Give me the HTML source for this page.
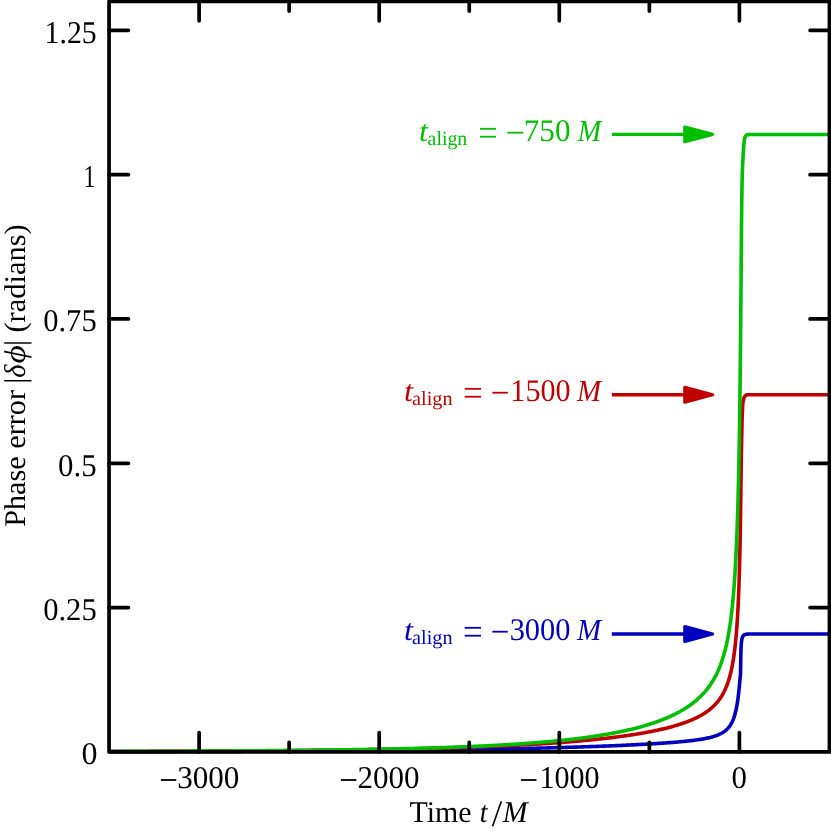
<!DOCTYPE html><html><head><meta charset="utf-8"><title>Phase error</title>
<style>html,body{margin:0;padding:0;background:#fff;}body{width:831px;height:831px;overflow:hidden;}svg{display:block;}text{font-family:"Liberation Serif",serif;font-size:30px;fill:#000;text-rendering:geometricPrecision;}</style></head><body>
<svg width="831" height="831" viewBox="0 0 831 831" style="will-change:transform">
<rect width="831" height="831" fill="#fff"/>
<path d="M109.20,751.66 L110.20,751.66 L111.21,751.66 L112.21,751.65 L113.21,751.65 L114.21,751.65 L115.22,751.65 L116.22,751.65 L117.22,751.65 L118.22,751.64 L119.23,751.64 L120.23,751.64 L121.23,751.64 L122.23,751.64 L123.24,751.64 L124.24,751.63 L125.24,751.63 L126.24,751.63 L127.25,751.63 L128.25,751.63 L129.25,751.63 L130.25,751.62 L131.26,751.62 L132.26,751.62 L133.26,751.62 L134.27,751.62 L135.27,751.61 L136.27,751.61 L137.27,751.61 L138.28,751.61 L139.28,751.61 L140.28,751.60 L141.28,751.60 L142.29,751.60 L143.29,751.60 L144.29,751.60 L145.29,751.59 L146.30,751.59 L147.30,751.59 L148.30,751.59 L149.30,751.59 L150.31,751.58 L151.31,751.58 L152.31,751.58 L153.32,751.58 L154.32,751.58 L155.32,751.57 L156.32,751.57 L157.33,751.57 L158.33,751.57 L159.33,751.56 L160.33,751.56 L161.34,751.56 L162.34,751.56 L163.34,751.56 L164.34,751.55 L165.35,751.55 L166.35,751.55 L167.35,751.55 L168.35,751.54 L169.36,751.54 L170.36,751.54 L171.36,751.54 L172.36,751.53 L173.37,751.53 L174.37,751.53 L175.37,751.53 L176.38,751.52 L177.38,751.52 L178.38,751.52 L179.38,751.52 L180.39,751.51 L181.39,751.51 L182.39,751.51 L183.39,751.51 L184.40,751.50 L185.40,751.50 L186.40,751.50 L187.40,751.50 L188.41,751.49 L189.41,751.49 L190.41,751.49 L191.41,751.49 L192.42,751.48 L193.42,751.48 L194.42,751.48 L195.42,751.48 L196.43,751.47 L197.43,751.47 L198.43,751.47 L199.44,751.46 L200.44,751.46 L201.44,751.46 L202.44,751.46 L203.45,751.45 L204.45,751.45 L205.45,751.45 L206.45,751.44 L207.46,751.44 L208.46,751.44 L209.46,751.44 L210.46,751.43 L211.47,751.43 L212.47,751.43 L213.47,751.42 L214.47,751.42 L215.48,751.42 L216.48,751.41 L217.48,751.41 L218.48,751.41 L219.49,751.40 L220.49,751.40 L221.49,751.40 L222.50,751.39 L223.50,751.39 L224.50,751.39 L225.50,751.38 L226.51,751.38 L227.51,751.38 L228.51,751.37 L229.51,751.37 L230.52,751.37 L231.52,751.36 L232.52,751.36 L233.52,751.36 L234.53,751.35 L235.53,751.35 L236.53,751.35 L237.53,751.34 L238.54,751.34 L239.54,751.34 L240.54,751.33 L241.54,751.33 L242.55,751.33 L243.55,751.32 L244.55,751.32 L245.56,751.31 L246.56,751.31 L247.56,751.31 L248.56,751.30 L249.57,751.30 L250.57,751.30 L251.57,751.29 L252.57,751.29 L253.58,751.28 L254.58,751.28 L255.58,751.28 L256.58,751.27 L257.59,751.27 L258.59,751.26 L259.59,751.26 L260.59,751.26 L261.60,751.25 L262.60,751.25 L263.60,751.24 L264.60,751.24 L265.61,751.23 L266.61,751.23 L267.61,751.23 L268.62,751.22 L269.62,751.22 L270.62,751.21 L271.62,751.21 L272.63,751.20 L273.63,751.20 L274.63,751.20 L275.63,751.19 L276.64,751.19 L277.64,751.18 L278.64,751.18 L279.64,751.17 L280.65,751.17 L281.65,751.16 L282.65,751.16 L283.65,751.15 L284.66,751.15 L285.66,751.14 L286.66,751.14 L287.66,751.14 L288.67,751.13 L289.67,751.13 L290.67,751.12 L291.68,751.12 L292.68,751.11 L293.68,751.11 L294.68,751.10 L295.69,751.10 L296.69,751.09 L297.69,751.09 L298.69,751.08 L299.70,751.07 L300.70,751.07 L301.70,751.06 L302.70,751.06 L303.71,751.05 L304.71,751.05 L305.71,751.04 L306.71,751.04 L307.72,751.03 L308.72,751.03 L309.72,751.02 L310.72,751.02 L311.73,751.01 L312.73,751.00 L313.73,751.00 L314.73,750.99 L315.74,750.99 L316.74,750.98 L317.74,750.97 L318.75,750.97 L319.75,750.96 L320.75,750.96 L321.75,750.95 L322.76,750.95 L323.76,750.94 L324.76,750.93 L325.76,750.93 L326.77,750.92 L327.77,750.91 L328.77,750.91 L329.77,750.90 L330.78,750.90 L331.78,750.89 L332.78,750.88 L333.78,750.88 L334.79,750.87 L335.79,750.86 L336.79,750.86 L337.79,750.85 L338.80,750.84 L339.80,750.84 L340.80,750.83 L341.81,750.82 L342.81,750.82 L343.81,750.81 L344.81,750.80 L345.82,750.80 L346.82,750.79 L347.82,750.78 L348.82,750.77 L349.83,750.77 L350.83,750.76 L351.83,750.75 L352.83,750.75 L353.84,750.74 L354.84,750.73 L355.84,750.72 L356.84,750.72 L357.85,750.71 L358.85,750.70 L359.85,750.69 L360.85,750.69 L361.86,750.68 L362.86,750.67 L363.86,750.66 L364.86,750.65 L365.87,750.65 L366.87,750.64 L367.87,750.63 L368.87,750.62 L369.88,750.61 L370.88,750.61 L371.88,750.60 L372.89,750.59 L373.89,750.58 L374.89,750.57 L375.89,750.56 L376.90,750.56 L377.90,750.55 L378.90,750.54 L379.90,750.53 L380.91,750.52 L381.91,750.51 L382.91,750.50 L383.91,750.49 L384.92,750.49 L385.92,750.48 L386.92,750.47 L387.92,750.46 L388.93,750.45 L389.93,750.44 L390.93,750.43 L391.93,750.42 L392.94,750.41 L393.94,750.40 L394.94,750.39 L395.94,750.38 L396.95,750.37 L397.95,750.36 L398.95,750.35 L399.95,750.34 L400.96,750.33 L401.96,750.32 L402.96,750.31 L403.97,750.30 L404.97,750.29 L405.97,750.28 L406.97,750.27 L407.98,750.26 L408.98,750.25 L409.98,750.24 L410.98,750.23 L411.99,750.22 L412.99,750.21 L413.99,750.20 L414.99,750.19 L416.00,750.18 L417.00,750.17 L418.00,750.16 L419.00,750.14 L420.01,750.13 L421.01,750.12 L422.01,750.11 L423.01,750.10 L424.02,750.09 L425.02,750.08 L426.02,750.06 L427.02,750.05 L428.03,750.04 L429.03,750.03 L430.03,750.02 L431.03,750.01 L432.04,749.99 L433.04,749.98 L434.04,749.97 L435.04,749.96 L436.05,749.94 L437.05,749.93 L438.05,749.92 L439.05,749.91 L440.06,749.89 L441.06,749.88 L442.06,749.87 L443.06,749.85 L444.07,749.84 L445.07,749.83 L446.07,749.81 L447.07,749.80 L448.08,749.79 L449.08,749.77 L450.08,749.76 L451.08,749.75 L452.09,749.73 L453.09,749.72 L454.09,749.71 L455.09,749.69 L456.10,749.68 L457.10,749.66 L458.10,749.65 L459.10,749.63 L460.11,749.62 L461.11,749.61 L462.11,749.59 L463.11,749.58 L464.12,749.56 L465.12,749.55 L466.12,749.53 L467.12,749.52 L468.13,749.50 L469.13,749.48 L470.13,749.47 L471.13,749.45 L472.14,749.44 L473.14,749.42 L474.14,749.41 L475.14,749.39 L476.15,749.37 L477.15,749.36 L478.15,749.34 L479.15,749.32 L480.16,749.31 L481.16,749.29 L482.16,749.27 L483.16,749.26 L484.17,749.24 L485.17,749.22 L486.17,749.21 L487.17,749.19 L488.18,749.17 L489.18,749.15 L490.18,749.14 L491.18,749.12 L492.19,749.10 L493.19,749.08 L494.19,749.06 L495.19,749.05 L496.20,749.03 L497.20,749.01 L498.20,748.99 L499.20,748.97 L500.21,748.95 L501.21,748.93 L502.21,748.91 L503.21,748.90 L504.22,748.88 L505.22,748.86 L506.22,748.84 L507.22,748.82 L508.23,748.80 L509.23,748.78 L510.23,748.76 L511.23,748.74 L512.24,748.72 L513.24,748.70 L514.24,748.67 L515.24,748.65 L516.25,748.63 L517.25,748.61 L518.25,748.59 L519.25,748.57 L520.25,748.55 L521.26,748.53 L522.26,748.50 L523.26,748.48 L524.26,748.46 L525.27,748.44 L526.27,748.42 L527.27,748.39 L528.27,748.37 L529.28,748.35 L530.28,748.32 L531.28,748.30 L532.28,748.28 L533.29,748.25 L534.29,748.23 L535.29,748.21 L536.29,748.18 L537.29,748.16 L538.30,748.13 L539.30,748.11 L540.30,748.08 L541.30,748.06 L542.31,748.03 L543.31,748.01 L544.31,747.98 L545.31,747.96 L546.32,747.93 L547.32,747.91 L548.32,747.88 L549.32,747.86 L550.32,747.83 L551.33,747.80 L552.33,747.78 L553.33,747.75 L554.33,747.72 L555.34,747.69 L556.34,747.67 L557.34,747.64 L558.34,747.61 L559.34,747.58 L560.35,747.55 L561.35,747.53 L562.35,747.50 L563.35,747.47 L564.36,747.44 L565.36,747.41 L566.36,747.38 L567.36,747.35 L568.36,747.32 L569.37,747.29 L570.37,747.26 L571.37,747.23 L572.37,747.20 L573.38,747.17 L574.38,747.14 L575.38,747.11 L576.38,747.08 L577.38,747.04 L578.39,747.01 L579.39,746.98 L580.39,746.95 L581.39,746.91 L582.39,746.88 L583.40,746.85 L584.40,746.81 L585.40,746.78 L586.40,746.75 L587.40,746.71 L588.41,746.68 L589.41,746.64 L590.41,746.61 L591.41,746.57 L592.41,746.54 L593.42,746.50 L594.42,746.47 L595.42,746.43 L596.42,746.39 L597.42,746.36 L598.43,746.32 L599.43,746.28 L600.43,746.25 L601.43,746.21 L602.43,746.17 L603.44,746.13 L604.44,746.09 L605.44,746.05 L606.44,746.01 L607.44,745.98 L608.44,745.94 L609.45,745.90 L610.45,745.85 L611.45,745.81 L612.45,745.77 L613.45,745.73 L614.46,745.69 L615.46,745.65 L616.46,745.60 L617.46,745.56 L618.46,745.52 L619.46,745.48 L620.47,745.43 L621.47,745.39 L622.47,745.34 L623.47,745.30 L624.47,745.25 L625.47,745.21 L626.48,745.16 L627.48,745.11 L628.48,745.07 L629.48,745.02 L630.48,744.97 L631.48,744.92 L632.48,744.87 L633.49,744.83 L634.49,744.78 L635.49,744.73 L636.49,744.67 L637.49,744.62 L638.49,744.57 L639.49,744.52 L640.49,744.47 L641.50,744.41 L642.50,744.36 L643.50,744.31 L644.50,744.25 L645.50,744.20 L646.50,744.14 L647.50,744.08 L648.50,744.03 L649.50,743.97 L650.51,743.91 L651.51,743.85 L652.51,743.79 L653.51,743.73 L654.51,743.67 L655.51,743.61 L656.51,743.55 L657.51,743.48 L658.51,743.42 L659.51,743.36 L660.51,743.29 L661.51,743.22 L662.51,743.16 L663.51,743.09 L664.51,743.02 L665.51,742.95 L666.51,742.88 L667.51,742.80 L668.51,742.73 L669.51,742.65 L670.51,742.58 L671.51,742.50 L672.51,742.42 L673.51,742.34 L674.51,742.26 L675.51,742.18 L676.51,742.10 L677.51,742.01 L678.51,741.92 L679.51,741.83 L680.50,741.74 L681.50,741.65 L682.50,741.56 L683.50,741.46 L684.50,741.36 L685.49,741.26 L686.49,741.16 L687.49,741.05 L688.48,740.94 L689.48,740.83 L690.48,740.71 L691.47,740.60 L692.47,740.48 L693.46,740.35 L694.46,740.22 L695.45,740.09 L696.44,739.96 L697.44,739.82 L698.43,739.67 L699.42,739.52 L700.41,739.36 L701.40,739.20 L702.39,739.04 L703.38,738.86 L704.36,738.68 L705.35,738.49 L706.33,738.29 L707.31,738.09 L708.29,737.87 L709.27,737.64 L710.24,737.41 L711.21,737.16 L712.18,736.90 L713.14,736.62 L714.10,736.33 L715.06,736.02 L716.00,735.69 L716.95,735.34 L717.88,734.98 L718.80,734.59 L719.71,734.17 L720.61,733.73 L721.50,733.26 L722.37,732.76 L723.22,732.24 L724.05,731.67 L724.86,731.08 L725.65,730.46 L726.40,729.80 L727.13,729.11 L727.82,728.39 L728.49,727.63 L729.12,726.85 L729.72,726.05 L730.28,725.22 L730.82,724.37 L731.32,723.51 L731.79,722.62 L732.24,721.72 L732.65,720.81 L733.05,719.89 L733.42,718.96 L733.77,718.02 L734.09,717.07 L734.40,716.12 L734.70,715.16 L734.97,714.19 L735.23,713.23 L735.48,712.25 L735.72,711.28 L735.94,710.30 L736.16,709.32 L736.36,708.34 L736.55,707.36 L736.74,706.37 L736.92,705.39 L737.09,704.40 L737.25,703.41 L737.41,702.42 L737.56,701.43 L737.71,700.44 L737.85,699.44 L737.98,698.45 L738.11,697.46 L738.24,696.46 L738.36,695.47 L738.48,694.47 L738.60,693.47 L738.71,692.48 L738.82,691.48 L738.93,690.48 L739.03,689.49 L739.13,688.49 L739.23,687.49 L739.33,686.49 L739.43,685.50 L739.52,684.50 L739.61,683.50 L739.71,682.50 L739.80,681.50 L739.89,680.50 L739.98,679.51 L740.07,678.51 L740.17,677.51 L740.26,676.51 L740.36,675.51 L740.46,674.52 L740.49,673.57 L740.51,672.87 L740.53,672.17 L740.55,671.46 L740.57,670.76 L740.58,670.06 L740.60,669.35 L740.61,668.65 L740.62,667.94 L740.64,667.24 L740.65,666.53 L740.66,665.83 L740.67,665.12 L740.68,664.42 L740.69,663.71 L740.70,663.01 L740.71,662.30 L740.72,661.60 L740.73,660.90 L740.75,660.19 L740.76,659.49 L740.77,658.78 L740.78,658.08 L740.80,657.37 L740.81,656.67 L740.82,655.97 L740.83,655.26 L740.84,654.56 L740.86,653.85 L740.87,653.15 L740.89,652.44 L740.91,651.74 L740.93,651.04 L740.95,650.33 L740.98,649.63 L741.01,648.92 L741.04,648.22 L741.07,647.51 L741.11,646.81 L741.15,646.11 L741.19,645.40 L741.24,644.70 L741.29,644.00 L741.34,643.30 L741.41,642.59 L741.48,641.88 L741.57,641.17 L741.68,640.46 L741.79,639.76 L741.93,639.08 L742.08,638.42 L742.27,637.74 L742.55,637.03 L742.89,636.34 L743.29,635.73 L743.72,635.24 L744.22,634.90 L744.84,634.61 L745.56,634.36 L746.29,634.20 L746.99,634.13 L747.68,634.09 L748.38,634.06 L749.09,634.03 L749.80,634.01 L750.51,634.00 L751.22,634.00 L751.92,634.00 L752.63,634.00 L753.33,634.00 L754.03,634.00 L754.74,634.00 L755.44,634.00 L756.15,634.00 L756.85,634.00 L757.56,634.00 L758.26,634.00 L758.96,634.00 L759.67,634.00 L760.37,634.00 L761.08,634.00 L761.78,634.00 L762.49,634.00 L763.19,634.00 L763.90,634.00 L764.60,634.00 L765.30,634.00 L766.01,634.00 L766.71,634.00 L767.42,634.00 L768.12,634.00 L768.83,634.00 L769.53,634.00 L770.23,634.00 L770.94,634.00 L771.64,634.00 L772.35,634.00 L773.05,634.00 L773.76,634.00 L774.46,634.00 L775.17,634.00 L775.87,634.00 L776.57,634.00 L777.28,634.00 L777.98,634.00 L778.69,634.00 L779.39,634.00 L780.10,634.00 L780.80,634.00 L781.50,634.00 L782.21,634.00 L782.91,634.00 L783.62,634.00 L784.32,634.00 L785.03,634.00 L785.73,634.00 L786.43,634.00 L787.14,634.00 L787.84,634.00 L788.55,634.00 L789.25,634.00 L789.96,634.00 L790.66,634.00 L791.37,634.00 L792.07,634.00 L792.77,634.00 L793.48,634.00 L794.18,634.00 L794.89,634.00 L795.59,634.00 L796.30,634.00 L797.00,634.00 L797.70,634.00 L798.41,634.00 L799.11,634.00 L799.82,634.00 L800.52,634.00 L801.23,634.00 L801.93,634.00 L802.63,634.00 L803.34,634.00 L804.04,634.00 L804.75,634.00 L805.45,634.00 L806.16,634.00 L806.86,634.00 L807.57,634.00 L808.27,634.00 L808.97,634.00 L809.68,634.00 L810.38,634.00 L811.09,634.00 L811.79,634.00 L812.50,634.00 L813.20,634.00 L813.90,634.00 L814.61,634.00 L815.31,634.00 L816.02,634.00 L816.72,634.00 L817.43,634.00 L818.13,634.00 L818.83,634.00 L819.54,634.00 L820.24,634.00 L820.95,634.00 L821.65,634.00 L822.36,634.00 L823.06,634.00 L823.77,634.00 L824.47,634.00 L825.17,634.00 L825.88,634.00 L826.58,634.00 L827.29,634.00 L827.99,634.00 L828.70,634.00 L829.40,634.00" fill="none" stroke="#0000be" stroke-width="3.6" stroke-linejoin="round" stroke-linecap="butt"/>
<path d="M109.20,751.54 L110.20,751.54 L111.20,751.54 L112.21,751.53 L113.21,751.53 L114.21,751.53 L115.21,751.53 L116.21,751.52 L117.22,751.52 L118.22,751.52 L119.22,751.52 L120.22,751.51 L121.22,751.51 L122.23,751.51 L123.23,751.50 L124.23,751.50 L125.23,751.50 L126.23,751.50 L127.24,751.49 L128.24,751.49 L129.24,751.49 L130.24,751.48 L131.24,751.48 L132.25,751.48 L133.25,751.47 L134.25,751.47 L135.25,751.47 L136.25,751.47 L137.26,751.46 L138.26,751.46 L139.26,751.46 L140.26,751.45 L141.26,751.45 L142.27,751.45 L143.27,751.44 L144.27,751.44 L145.27,751.44 L146.27,751.43 L147.28,751.43 L148.28,751.43 L149.28,751.42 L150.28,751.42 L151.28,751.42 L152.29,751.41 L153.29,751.41 L154.29,751.41 L155.29,751.40 L156.29,751.40 L157.30,751.40 L158.30,751.39 L159.30,751.39 L160.30,751.38 L161.30,751.38 L162.31,751.38 L163.31,751.37 L164.31,751.37 L165.31,751.37 L166.31,751.36 L167.32,751.36 L168.32,751.35 L169.32,751.35 L170.32,751.35 L171.32,751.34 L172.33,751.34 L173.33,751.33 L174.33,751.33 L175.33,751.33 L176.33,751.32 L177.34,751.32 L178.34,751.31 L179.34,751.31 L180.34,751.31 L181.34,751.30 L182.35,751.30 L183.35,751.29 L184.35,751.29 L185.35,751.28 L186.35,751.28 L187.36,751.28 L188.36,751.27 L189.36,751.27 L190.36,751.26 L191.36,751.26 L192.37,751.25 L193.37,751.25 L194.37,751.24 L195.37,751.24 L196.37,751.24 L197.38,751.23 L198.38,751.23 L199.38,751.22 L200.38,751.22 L201.39,751.21 L202.39,751.21 L203.39,751.20 L204.39,751.20 L205.39,751.19 L206.40,751.19 L207.40,751.18 L208.40,751.18 L209.40,751.17 L210.40,751.17 L211.41,751.16 L212.41,751.16 L213.41,751.15 L214.41,751.15 L215.41,751.14 L216.42,751.13 L217.42,751.13 L218.42,751.12 L219.42,751.12 L220.42,751.11 L221.43,751.11 L222.43,751.10 L223.43,751.10 L224.43,751.09 L225.43,751.08 L226.44,751.08 L227.44,751.07 L228.44,751.07 L229.44,751.06 L230.44,751.06 L231.45,751.05 L232.45,751.04 L233.45,751.04 L234.45,751.03 L235.45,751.03 L236.46,751.02 L237.46,751.01 L238.46,751.01 L239.46,751.00 L240.46,750.99 L241.47,750.99 L242.47,750.98 L243.47,750.98 L244.47,750.97 L245.47,750.96 L246.48,750.96 L247.48,750.95 L248.48,750.94 L249.48,750.94 L250.48,750.93 L251.49,750.92 L252.49,750.91 L253.49,750.91 L254.49,750.90 L255.49,750.89 L256.50,750.89 L257.50,750.88 L258.50,750.87 L259.50,750.87 L260.50,750.86 L261.50,750.85 L262.51,750.84 L263.51,750.84 L264.51,750.83 L265.51,750.82 L266.51,750.81 L267.52,750.81 L268.52,750.80 L269.52,750.79 L270.52,750.78 L271.52,750.77 L272.53,750.77 L273.53,750.76 L274.53,750.75 L275.53,750.74 L276.53,750.73 L277.54,750.73 L278.54,750.72 L279.54,750.71 L280.54,750.70 L281.54,750.69 L282.55,750.68 L283.55,750.67 L284.55,750.67 L285.55,750.66 L286.55,750.65 L287.56,750.64 L288.56,750.63 L289.56,750.62 L290.56,750.61 L291.56,750.60 L292.57,750.59 L293.57,750.59 L294.57,750.58 L295.57,750.57 L296.57,750.56 L297.58,750.55 L298.58,750.54 L299.58,750.53 L300.58,750.52 L301.58,750.51 L302.59,750.50 L303.59,750.49 L304.59,750.48 L305.59,750.47 L306.59,750.46 L307.60,750.45 L308.60,750.44 L309.60,750.43 L310.60,750.42 L311.60,750.41 L312.61,750.40 L313.61,750.39 L314.61,750.38 L315.61,750.36 L316.61,750.35 L317.62,750.34 L318.62,750.33 L319.62,750.32 L320.62,750.31 L321.62,750.30 L322.63,750.29 L323.63,750.28 L324.63,750.26 L325.63,750.25 L326.63,750.24 L327.64,750.23 L328.64,750.22 L329.64,750.20 L330.64,750.19 L331.64,750.18 L332.64,750.17 L333.65,750.16 L334.65,750.14 L335.65,750.13 L336.65,750.12 L337.65,750.11 L338.66,750.09 L339.66,750.08 L340.66,750.07 L341.66,750.05 L342.66,750.04 L343.67,750.03 L344.67,750.01 L345.67,750.00 L346.67,749.99 L347.67,749.97 L348.68,749.96 L349.68,749.95 L350.68,749.93 L351.68,749.92 L352.68,749.90 L353.69,749.89 L354.69,749.87 L355.69,749.86 L356.69,749.85 L357.69,749.83 L358.69,749.82 L359.70,749.80 L360.70,749.79 L361.70,749.77 L362.70,749.76 L363.70,749.74 L364.71,749.72 L365.71,749.71 L366.71,749.69 L367.71,749.68 L368.71,749.66 L369.72,749.65 L370.72,749.63 L371.72,749.61 L372.72,749.60 L373.72,749.58 L374.73,749.56 L375.73,749.55 L376.73,749.53 L377.73,749.51 L378.73,749.49 L379.73,749.48 L380.74,749.46 L381.74,749.44 L382.74,749.42 L383.74,749.41 L384.74,749.39 L385.75,749.37 L386.75,749.35 L387.75,749.33 L388.75,749.32 L389.75,749.30 L390.76,749.28 L391.76,749.26 L392.76,749.24 L393.76,749.22 L394.76,749.20 L395.76,749.18 L396.77,749.16 L397.77,749.14 L398.77,749.12 L399.77,749.10 L400.77,749.08 L401.78,749.06 L402.78,749.04 L403.78,749.02 L404.78,749.00 L405.78,748.98 L406.78,748.96 L407.79,748.93 L408.79,748.91 L409.79,748.89 L410.79,748.87 L411.79,748.85 L412.79,748.82 L413.80,748.80 L414.80,748.78 L415.80,748.76 L416.80,748.73 L417.80,748.71 L418.81,748.69 L419.81,748.66 L420.81,748.64 L421.81,748.62 L422.81,748.59 L423.81,748.57 L424.82,748.54 L425.82,748.52 L426.82,748.49 L427.82,748.47 L428.82,748.44 L429.82,748.42 L430.83,748.39 L431.83,748.37 L432.83,748.34 L433.83,748.32 L434.83,748.29 L435.83,748.26 L436.84,748.24 L437.84,748.21 L438.84,748.18 L439.84,748.15 L440.84,748.13 L441.84,748.10 L442.85,748.07 L443.85,748.04 L444.85,748.01 L445.85,747.98 L446.85,747.96 L447.85,747.93 L448.86,747.90 L449.86,747.87 L450.86,747.84 L451.86,747.81 L452.86,747.78 L453.86,747.75 L454.86,747.72 L455.87,747.68 L456.87,747.65 L457.87,747.62 L458.87,747.59 L459.87,747.56 L460.87,747.53 L461.88,747.49 L462.88,747.46 L463.88,747.43 L464.88,747.39 L465.88,747.36 L466.88,747.33 L467.88,747.29 L468.89,747.26 L469.89,747.22 L470.89,747.19 L471.89,747.15 L472.89,747.12 L473.89,747.08 L474.89,747.04 L475.90,747.01 L476.90,746.97 L477.90,746.93 L478.90,746.90 L479.90,746.86 L480.90,746.82 L481.90,746.78 L482.90,746.74 L483.91,746.71 L484.91,746.67 L485.91,746.63 L486.91,746.59 L487.91,746.55 L488.91,746.51 L489.91,746.47 L490.91,746.42 L491.92,746.38 L492.92,746.34 L493.92,746.30 L494.92,746.26 L495.92,746.21 L496.92,746.17 L497.92,746.13 L498.92,746.08 L499.92,746.04 L500.93,745.99 L501.93,745.95 L502.93,745.90 L503.93,745.86 L504.93,745.81 L505.93,745.77 L506.93,745.72 L507.93,745.67 L508.93,745.62 L509.93,745.58 L510.93,745.53 L511.94,745.48 L512.94,745.43 L513.94,745.38 L514.94,745.33 L515.94,745.28 L516.94,745.23 L517.94,745.18 L518.94,745.12 L519.94,745.07 L520.94,745.02 L521.94,744.97 L522.94,744.91 L523.94,744.86 L524.94,744.80 L525.94,744.75 L526.94,744.69 L527.95,744.64 L528.95,744.58 L529.95,744.52 L530.95,744.47 L531.95,744.41 L532.95,744.35 L533.95,744.29 L534.95,744.23 L535.95,744.17 L536.95,744.11 L537.95,744.05 L538.95,743.99 L539.95,743.93 L540.95,743.87 L541.95,743.80 L542.95,743.74 L543.95,743.67 L544.95,743.61 L545.95,743.54 L546.95,743.48 L547.95,743.41 L548.95,743.35 L549.95,743.28 L550.95,743.21 L551.95,743.14 L552.95,743.07 L553.95,743.00 L554.95,742.93 L555.95,742.86 L556.94,742.79 L557.94,742.71 L558.94,742.64 L559.94,742.57 L560.94,742.49 L561.94,742.42 L562.94,742.34 L563.94,742.27 L564.94,742.19 L565.94,742.11 L566.94,742.03 L567.94,741.95 L568.93,741.87 L569.93,741.79 L570.93,741.71 L571.93,741.63 L572.93,741.54 L573.93,741.46 L574.93,741.38 L575.92,741.29 L576.92,741.20 L577.92,741.12 L578.92,741.03 L579.92,740.94 L580.91,740.85 L581.91,740.76 L582.91,740.67 L583.91,740.58 L584.91,740.48 L585.90,740.39 L586.90,740.30 L587.90,740.20 L588.90,740.10 L589.89,740.01 L590.89,739.91 L591.89,739.81 L592.88,739.71 L593.88,739.61 L594.88,739.50 L595.87,739.40 L596.87,739.30 L597.87,739.19 L598.86,739.08 L599.86,738.98 L600.86,738.87 L601.85,738.76 L602.85,738.65 L603.84,738.54 L604.84,738.42 L605.83,738.31 L606.83,738.19 L607.83,738.08 L608.82,737.96 L609.82,737.84 L610.81,737.72 L611.80,737.60 L612.80,737.47 L613.79,737.35 L614.79,737.23 L615.78,737.10 L616.78,736.97 L617.77,736.84 L618.76,736.71 L619.76,736.58 L620.75,736.44 L621.74,736.31 L622.73,736.17 L623.73,736.03 L624.72,735.89 L625.71,735.75 L626.70,735.61 L627.69,735.47 L628.69,735.32 L629.68,735.17 L630.67,735.02 L631.66,734.87 L632.65,734.72 L633.64,734.56 L634.63,734.41 L635.62,734.25 L636.61,734.09 L637.60,733.93 L638.58,733.76 L639.57,733.60 L640.56,733.43 L641.55,733.26 L642.53,733.09 L643.52,732.91 L644.51,732.73 L645.49,732.56 L646.48,732.37 L647.46,732.19 L648.45,732.00 L649.43,731.82 L650.42,731.63 L651.40,731.43 L652.38,731.24 L653.36,731.04 L654.35,730.84 L655.33,730.63 L656.31,730.42 L657.29,730.21 L658.27,730.00 L659.24,729.79 L660.22,729.57 L661.20,729.34 L662.18,729.12 L663.15,728.89 L664.13,728.66 L665.10,728.42 L666.07,728.18 L667.04,727.94 L668.02,727.69 L668.99,727.44 L669.96,727.19 L670.92,726.93 L671.89,726.66 L672.86,726.39 L673.82,726.12 L674.78,725.85 L675.74,725.56 L676.70,725.28 L677.66,724.99 L678.62,724.69 L679.58,724.39 L680.53,724.08 L681.48,723.76 L682.43,723.45 L683.38,723.12 L684.32,722.79 L685.27,722.45 L686.21,722.11 L687.15,721.75 L688.08,721.40 L689.01,721.03 L689.94,720.66 L690.87,720.27 L691.79,719.88 L692.71,719.49 L693.63,719.08 L694.54,718.67 L695.45,718.24 L696.35,717.81 L697.25,717.36 L698.14,716.91 L699.03,716.45 L699.92,715.97 L700.79,715.49 L701.66,714.99 L702.53,714.48 L703.38,713.96 L704.23,713.43 L705.07,712.89 L705.91,712.33 L706.73,711.76 L707.55,711.18 L708.35,710.58 L709.15,709.97 L709.93,709.35 L710.71,708.71 L711.47,708.06 L712.22,707.40 L712.96,706.72 L713.68,706.03 L714.39,705.32 L715.09,704.60 L715.77,703.87 L716.44,703.12 L717.09,702.36 L717.73,701.59 L718.36,700.81 L718.96,700.01 L719.56,699.20 L720.13,698.38 L720.69,697.55 L721.24,696.71 L721.77,695.86 L722.28,695.00 L722.78,694.13 L723.26,693.25 L723.73,692.37 L724.19,691.48 L724.63,690.58 L725.06,689.67 L725.47,688.76 L725.87,687.84 L726.26,686.91 L726.63,685.98 L726.99,685.05 L727.34,684.11 L727.68,683.17 L728.01,682.22 L728.33,681.27 L728.63,680.32 L728.93,679.36 L729.22,678.40 L729.50,677.44 L729.77,676.47 L730.03,675.51 L730.28,674.54 L730.53,673.57 L730.77,672.59 L731.00,671.62 L731.22,670.64 L731.44,669.66 L731.65,668.68 L731.85,667.70 L732.05,666.72 L732.24,665.73 L732.43,664.75 L732.61,663.77 L732.78,662.78 L732.96,661.79 L733.12,660.80 L733.28,659.81 L733.44,658.82 L733.59,657.83 L733.74,656.84 L733.89,655.85 L734.03,654.86 L734.17,653.87 L734.30,652.87 L734.43,651.88 L734.56,650.89 L734.68,649.89 L734.80,648.90 L734.92,647.90 L735.04,646.91 L735.15,645.91 L735.26,644.92 L735.37,643.92 L735.47,642.92 L735.57,641.93 L735.67,640.93 L735.77,639.93 L735.86,638.93 L735.96,637.94 L736.05,636.94 L736.14,635.94 L736.22,634.94 L736.31,633.94 L736.39,632.95 L736.47,631.95 L736.55,630.95 L736.63,629.95 L736.71,628.95 L736.78,627.95 L736.86,626.95 L736.93,625.95 L737.00,624.95 L737.07,623.95 L737.14,622.95 L737.20,621.95 L737.27,620.95 L737.33,619.95 L737.39,618.95 L737.46,617.95 L737.52,616.95 L737.57,615.95 L737.63,614.95 L737.69,613.95 L737.75,612.95 L737.80,611.95 L737.85,610.95 L737.91,609.95 L737.96,608.95 L738.01,607.95 L738.06,606.95 L738.11,605.95 L738.16,604.95 L738.21,603.95 L738.25,602.94 L738.30,601.94 L738.34,600.94 L738.39,599.94 L738.43,598.94 L738.47,597.94 L738.52,596.94 L738.56,595.94 L738.60,594.94 L738.64,593.93 L738.68,592.93 L738.72,591.93 L738.76,590.93 L738.79,589.93 L738.83,588.93 L738.87,587.93 L738.90,586.93 L738.94,585.92 L738.97,584.92 L739.01,583.92 L739.04,582.92 L739.08,581.92 L739.11,580.92 L739.14,579.92 L739.17,578.91 L739.21,577.91 L739.24,576.91 L739.27,575.91 L739.30,574.91 L739.33,573.91 L739.36,572.90 L739.39,571.90 L739.41,570.90 L739.44,569.90 L739.47,568.90 L739.50,567.90 L739.52,566.89 L739.55,565.89 L739.58,564.89 L739.60,563.89 L739.63,562.89 L739.65,561.89 L739.68,560.88 L739.70,559.88 L739.73,558.88 L739.75,557.88 L739.77,556.88 L739.80,555.88 L739.82,554.87 L739.84,553.87 L739.87,552.87 L739.89,551.87 L739.91,550.87 L739.93,549.87 L739.95,548.86 L739.97,547.86 L739.99,546.86 L740.02,545.86 L740.04,544.86 L740.06,543.85 L740.08,542.85 L740.09,541.85 L740.11,540.85 L740.13,539.85 L740.15,538.85 L740.17,537.84 L740.19,536.84 L740.21,535.84 L740.23,534.84 L740.24,533.84 L740.26,532.83 L740.28,531.83 L740.30,530.83 L740.31,529.83 L740.33,528.83 L740.35,527.82 L740.36,526.82 L740.38,525.82 L740.39,524.82 L740.41,523.82 L740.43,522.82 L740.44,521.81 L740.46,520.81 L740.47,519.81 L740.49,518.81 L740.50,517.81 L740.52,516.80 L740.53,515.80 L740.55,514.80 L740.56,513.80 L740.57,512.80 L740.59,511.79 L740.60,510.79 L740.62,509.79 L740.63,508.79 L740.64,507.79 L740.66,506.78 L740.67,505.78 L740.68,504.78 L740.69,503.78 L740.71,502.78 L740.72,501.78 L740.73,500.77 L740.74,499.77 L740.76,498.77 L740.77,497.77 L740.78,496.77 L740.79,495.76 L740.80,494.76 L740.82,493.76 L740.83,492.84 L740.84,492.13 L740.85,491.43 L740.86,490.73 L740.86,490.03 L740.87,489.32 L740.88,488.62 L740.89,487.92 L740.90,487.21 L740.91,486.51 L740.92,485.81 L740.93,485.11 L740.94,484.40 L740.95,483.70 L740.96,483.00 L740.97,482.30 L740.97,481.59 L740.98,480.89 L740.99,480.19 L741.00,479.49 L741.01,478.78 L741.02,478.08 L741.03,477.38 L741.04,476.67 L741.05,475.97 L741.06,475.27 L741.07,474.57 L741.08,473.86 L741.09,473.16 L741.10,472.46 L741.11,471.76 L741.12,471.05 L741.13,470.35 L741.14,469.65 L741.15,468.95 L741.16,468.24 L741.17,467.54 L741.18,466.84 L741.19,466.13 L741.20,465.43 L741.21,464.73 L741.22,464.03 L741.23,463.32 L741.24,462.62 L741.25,461.92 L741.26,461.22 L741.27,460.51 L741.28,459.81 L741.29,459.11 L741.30,458.41 L741.31,457.70 L741.33,457.00 L741.34,456.30 L741.35,455.59 L741.36,454.89 L741.37,454.19 L741.38,453.49 L741.40,452.78 L741.41,452.08 L741.42,451.38 L741.43,450.68 L741.44,449.97 L741.46,449.27 L741.47,448.57 L741.48,447.87 L741.49,447.16 L741.51,446.46 L741.52,445.76 L741.53,445.06 L741.55,444.35 L741.56,443.65 L741.57,442.95 L741.59,442.25 L741.60,441.54 L741.62,440.84 L741.63,440.14 L741.64,439.44 L741.66,438.73 L741.67,438.03 L741.69,437.33 L741.70,436.63 L741.72,435.92 L741.73,435.22 L741.75,434.52 L741.76,433.82 L741.78,433.11 L741.80,432.41 L741.81,431.71 L741.83,431.01 L741.84,430.30 L741.86,429.60 L741.88,428.90 L741.90,428.20 L741.91,427.49 L741.93,426.79 L741.95,426.09 L741.96,425.39 L741.98,424.68 L742.00,423.98 L742.01,423.27 L742.03,422.57 L742.05,421.87 L742.06,421.16 L742.08,420.46 L742.10,419.75 L742.12,419.05 L742.14,418.35 L742.16,417.64 L742.18,416.94 L742.20,416.24 L742.23,415.53 L742.25,414.83 L742.28,414.13 L742.30,413.42 L742.33,412.72 L742.36,412.02 L742.39,411.32 L742.42,410.61 L742.45,409.91 L742.49,409.21 L742.53,408.51 L742.56,407.81 L742.60,407.11 L742.65,406.41 L742.69,405.72 L742.74,405.02 L742.78,404.32 L742.84,403.62 L742.92,402.92 L743.01,402.22 L743.13,401.53 L743.26,400.83 L743.41,400.14 L743.56,399.46 L743.73,398.78 L743.94,398.08 L744.19,397.39 L744.47,396.75 L744.81,396.19 L745.27,395.66 L745.86,395.20 L746.49,394.95 L747.17,394.79 L747.89,394.71 L748.59,394.70 L749.28,394.70 L749.98,394.70 L750.68,394.70 L751.39,394.70 L752.09,394.70 L752.79,394.70 L753.50,394.70 L754.20,394.70 L754.90,394.70 L755.61,394.70 L756.31,394.70 L757.02,394.70 L757.72,394.70 L758.43,394.70 L759.13,394.70 L759.83,394.70 L760.54,394.70 L761.24,394.70 L761.94,394.70 L762.64,394.70 L763.35,394.70 L764.05,394.70 L764.75,394.70 L765.45,394.70 L766.16,394.70 L766.86,394.70 L767.56,394.70 L768.27,394.70 L768.97,394.70 L769.67,394.70 L770.37,394.70 L771.08,394.70 L771.78,394.70 L772.48,394.70 L773.18,394.70 L773.89,394.70 L774.59,394.70 L775.29,394.70 L776.00,394.70 L776.70,394.70 L777.40,394.70 L778.10,394.70 L778.81,394.70 L779.51,394.70 L780.21,394.70 L780.91,394.70 L781.62,394.70 L782.32,394.70 L783.02,394.70 L783.72,394.70 L784.43,394.70 L785.13,394.70 L785.83,394.70 L786.54,394.70 L787.24,394.70 L787.94,394.70 L788.64,394.70 L789.35,394.70 L790.05,394.70 L790.75,394.70 L791.45,394.70 L792.16,394.70 L792.86,394.70 L793.56,394.70 L794.27,394.70 L794.97,394.70 L795.67,394.70 L796.37,394.70 L797.08,394.70 L797.78,394.70 L798.48,394.70 L799.18,394.70 L799.89,394.70 L800.59,394.70 L801.29,394.70 L801.99,394.70 L802.70,394.70 L803.40,394.70 L804.10,394.70 L804.81,394.70 L805.51,394.70 L806.21,394.70 L806.91,394.70 L807.62,394.70 L808.32,394.70 L809.02,394.70 L809.72,394.70 L810.43,394.70 L811.13,394.70 L811.83,394.70 L812.54,394.70 L813.24,394.70 L813.94,394.70 L814.64,394.70 L815.35,394.70 L816.05,394.70 L816.75,394.70 L817.45,394.70 L818.16,394.70 L818.86,394.70 L819.56,394.70 L820.26,394.70 L820.97,394.70 L821.67,394.70 L822.37,394.70 L823.08,394.70 L823.78,394.70 L824.48,394.70 L825.18,394.70 L825.89,394.70 L826.59,394.70 L827.29,394.70 L827.99,394.70 L828.70,394.70 L829.40,394.70" fill="none" stroke="#be0000" stroke-width="3.6" stroke-linejoin="round" stroke-linecap="butt"/>
<path d="M109.20,751.46 L110.20,751.46 L111.20,751.46 L112.20,751.45 L113.21,751.45 L114.21,751.45 L115.21,751.44 L116.21,751.44 L117.21,751.44 L118.21,751.44 L119.21,751.43 L120.21,751.43 L121.22,751.43 L122.22,751.42 L123.22,751.42 L124.22,751.42 L125.22,751.41 L126.22,751.41 L127.22,751.41 L128.23,751.40 L129.23,751.40 L130.23,751.40 L131.23,751.39 L132.23,751.39 L133.23,751.39 L134.23,751.38 L135.24,751.38 L136.24,751.38 L137.24,751.37 L138.24,751.37 L139.24,751.37 L140.24,751.36 L141.24,751.36 L142.24,751.36 L143.25,751.35 L144.25,751.35 L145.25,751.35 L146.25,751.34 L147.25,751.34 L148.25,751.34 L149.25,751.33 L150.26,751.33 L151.26,751.32 L152.26,751.32 L153.26,751.32 L154.26,751.31 L155.26,751.31 L156.26,751.31 L157.26,751.30 L158.27,751.30 L159.27,751.29 L160.27,751.29 L161.27,751.29 L162.27,751.28 L163.27,751.28 L164.27,751.27 L165.28,751.27 L166.28,751.27 L167.28,751.26 L168.28,751.26 L169.28,751.25 L170.28,751.25 L171.28,751.24 L172.29,751.24 L173.29,751.24 L174.29,751.23 L175.29,751.23 L176.29,751.22 L177.29,751.22 L178.29,751.21 L179.29,751.21 L180.30,751.20 L181.30,751.20 L182.30,751.20 L183.30,751.19 L184.30,751.19 L185.30,751.18 L186.30,751.18 L187.31,751.17 L188.31,751.17 L189.31,751.16 L190.31,751.16 L191.31,751.15 L192.31,751.15 L193.31,751.14 L194.31,751.14 L195.32,751.13 L196.32,751.13 L197.32,751.12 L198.32,751.12 L199.32,751.11 L200.32,751.11 L201.32,751.10 L202.33,751.10 L203.33,751.09 L204.33,751.09 L205.33,751.08 L206.33,751.08 L207.33,751.07 L208.33,751.06 L209.33,751.06 L210.34,751.05 L211.34,751.05 L212.34,751.04 L213.34,751.04 L214.34,751.03 L215.34,751.02 L216.34,751.02 L217.35,751.01 L218.35,751.01 L219.35,751.00 L220.35,751.00 L221.35,750.99 L222.35,750.98 L223.35,750.98 L224.36,750.97 L225.36,750.96 L226.36,750.96 L227.36,750.95 L228.36,750.95 L229.36,750.94 L230.36,750.93 L231.36,750.93 L232.37,750.92 L233.37,750.91 L234.37,750.91 L235.37,750.90 L236.37,750.89 L237.37,750.89 L238.37,750.88 L239.38,750.87 L240.38,750.87 L241.38,750.86 L242.38,750.85 L243.38,750.85 L244.38,750.84 L245.38,750.83 L246.38,750.82 L247.39,750.82 L248.39,750.81 L249.39,750.80 L250.39,750.80 L251.39,750.79 L252.39,750.78 L253.39,750.77 L254.40,750.77 L255.40,750.76 L256.40,750.75 L257.40,750.74 L258.40,750.73 L259.40,750.73 L260.40,750.72 L261.40,750.71 L262.41,750.70 L263.41,750.69 L264.41,750.69 L265.41,750.68 L266.41,750.67 L267.41,750.66 L268.41,750.65 L269.42,750.65 L270.42,750.64 L271.42,750.63 L272.42,750.62 L273.42,750.61 L274.42,750.60 L275.42,750.59 L276.42,750.58 L277.43,750.58 L278.43,750.57 L279.43,750.56 L280.43,750.55 L281.43,750.54 L282.43,750.53 L283.43,750.52 L284.43,750.51 L285.44,750.50 L286.44,750.49 L287.44,750.48 L288.44,750.47 L289.44,750.46 L290.44,750.45 L291.44,750.44 L292.45,750.43 L293.45,750.42 L294.45,750.41 L295.45,750.40 L296.45,750.39 L297.45,750.38 L298.45,750.37 L299.45,750.36 L300.46,750.35 L301.46,750.34 L302.46,750.33 L303.46,750.32 L304.46,750.31 L305.46,750.30 L306.46,750.28 L307.46,750.27 L308.47,750.26 L309.47,750.25 L310.47,750.24 L311.47,750.23 L312.47,750.22 L313.47,750.20 L314.47,750.19 L315.48,750.18 L316.48,750.17 L317.48,750.16 L318.48,750.15 L319.48,750.13 L320.48,750.12 L321.48,750.11 L322.48,750.10 L323.49,750.08 L324.49,750.07 L325.49,750.06 L326.49,750.04 L327.49,750.03 L328.49,750.02 L329.49,750.01 L330.49,749.99 L331.50,749.98 L332.50,749.97 L333.50,749.95 L334.50,749.94 L335.50,749.92 L336.50,749.91 L337.50,749.90 L338.50,749.88 L339.51,749.87 L340.51,749.85 L341.51,749.84 L342.51,749.82 L343.51,749.81 L344.51,749.79 L345.51,749.78 L346.51,749.76 L347.52,749.75 L348.52,749.73 L349.52,749.72 L350.52,749.70 L351.52,749.69 L352.52,749.67 L353.52,749.66 L354.52,749.64 L355.53,749.62 L356.53,749.61 L357.53,749.59 L358.53,749.57 L359.53,749.56 L360.53,749.54 L361.53,749.52 L362.53,749.51 L363.54,749.49 L364.54,749.47 L365.54,749.46 L366.54,749.44 L367.54,749.42 L368.54,749.40 L369.54,749.38 L370.54,749.37 L371.54,749.35 L372.55,749.33 L373.55,749.31 L374.55,749.29 L375.55,749.27 L376.55,749.25 L377.55,749.23 L378.55,749.22 L379.55,749.20 L380.56,749.18 L381.56,749.16 L382.56,749.14 L383.56,749.12 L384.56,749.10 L385.56,749.08 L386.56,749.05 L387.56,749.03 L388.56,749.01 L389.57,748.99 L390.57,748.97 L391.57,748.95 L392.57,748.93 L393.57,748.91 L394.57,748.88 L395.57,748.86 L396.57,748.84 L397.57,748.82 L398.58,748.79 L399.58,748.77 L400.58,748.75 L401.58,748.72 L402.58,748.70 L403.58,748.68 L404.58,748.65 L405.58,748.63 L406.58,748.60 L407.59,748.58 L408.59,748.55 L409.59,748.53 L410.59,748.50 L411.59,748.48 L412.59,748.45 L413.59,748.43 L414.59,748.40 L415.59,748.38 L416.59,748.35 L417.60,748.32 L418.60,748.30 L419.60,748.27 L420.60,748.24 L421.60,748.21 L422.60,748.19 L423.60,748.16 L424.60,748.13 L425.60,748.10 L426.60,748.07 L427.61,748.04 L428.61,748.01 L429.61,747.98 L430.61,747.95 L431.61,747.92 L432.61,747.89 L433.61,747.86 L434.61,747.83 L435.61,747.80 L436.61,747.77 L437.61,747.74 L438.62,747.71 L439.62,747.67 L440.62,747.64 L441.62,747.61 L442.62,747.58 L443.62,747.54 L444.62,747.51 L445.62,747.48 L446.62,747.44 L447.62,747.41 L448.62,747.37 L449.62,747.34 L450.62,747.30 L451.63,747.27 L452.63,747.23 L453.63,747.19 L454.63,747.16 L455.63,747.12 L456.63,747.08 L457.63,747.04 L458.63,747.01 L459.63,746.97 L460.63,746.93 L461.63,746.89 L462.63,746.85 L463.63,746.81 L464.63,746.77 L465.63,746.73 L466.63,746.69 L467.64,746.65 L468.64,746.61 L469.64,746.57 L470.64,746.52 L471.64,746.48 L472.64,746.44 L473.64,746.39 L474.64,746.35 L475.64,746.31 L476.64,746.26 L477.64,746.22 L478.64,746.17 L479.64,746.12 L480.64,746.08 L481.64,746.03 L482.64,745.98 L483.64,745.94 L484.64,745.89 L485.64,745.84 L486.64,745.79 L487.64,745.74 L488.64,745.69 L489.64,745.64 L490.64,745.59 L491.64,745.54 L492.64,745.49 L493.64,745.44 L494.64,745.38 L495.64,745.33 L496.64,745.28 L497.64,745.22 L498.64,745.17 L499.64,745.11 L500.64,745.06 L501.64,745.00 L502.64,744.94 L503.64,744.89 L504.64,744.83 L505.64,744.77 L506.64,744.71 L507.64,744.65 L508.64,744.59 L509.64,744.53 L510.64,744.47 L511.64,744.41 L512.64,744.35 L513.64,744.28 L514.64,744.22 L515.63,744.15 L516.63,744.09 L517.63,744.02 L518.63,743.96 L519.63,743.89 L520.63,743.82 L521.63,743.75 L522.63,743.69 L523.63,743.62 L524.63,743.55 L525.63,743.48 L526.62,743.40 L527.62,743.33 L528.62,743.26 L529.62,743.18 L530.62,743.11 L531.62,743.03 L532.62,742.96 L533.61,742.88 L534.61,742.80 L535.61,742.73 L536.61,742.65 L537.61,742.57 L538.61,742.49 L539.60,742.40 L540.60,742.32 L541.60,742.24 L542.60,742.15 L543.59,742.07 L544.59,741.98 L545.59,741.90 L546.59,741.81 L547.58,741.72 L548.58,741.63 L549.58,741.54 L550.58,741.45 L551.57,741.36 L552.57,741.27 L553.57,741.17 L554.56,741.08 L555.56,740.98 L556.56,740.88 L557.55,740.78 L558.55,740.69 L559.55,740.59 L560.54,740.48 L561.54,740.38 L562.54,740.28 L563.53,740.17 L564.53,740.07 L565.52,739.96 L566.52,739.85 L567.51,739.74 L568.51,739.63 L569.50,739.52 L570.50,739.41 L571.49,739.30 L572.49,739.18 L573.48,739.06 L574.48,738.95 L575.47,738.83 L576.47,738.71 L577.46,738.58 L578.45,738.46 L579.45,738.34 L580.44,738.21 L581.43,738.08 L582.43,737.96 L583.42,737.83 L584.41,737.69 L585.41,737.56 L586.40,737.43 L587.39,737.29 L588.38,737.15 L589.37,737.01 L590.36,736.87 L591.36,736.73 L592.35,736.59 L593.34,736.44 L594.33,736.30 L595.32,736.15 L596.31,736.00 L597.30,735.84 L598.29,735.69 L599.28,735.53 L600.27,735.38 L601.25,735.22 L602.24,735.05 L603.23,734.89 L604.22,734.73 L605.20,734.56 L606.19,734.39 L607.18,734.22 L608.16,734.04 L609.15,733.87 L610.14,733.69 L611.12,733.51 L612.11,733.33 L613.09,733.14 L614.07,732.96 L615.06,732.77 L616.04,732.58 L617.02,732.38 L618.00,732.19 L618.99,731.99 L619.97,731.79 L620.95,731.59 L621.93,731.38 L622.91,731.17 L623.89,730.96 L624.86,730.75 L625.84,730.53 L626.82,730.31 L627.80,730.09 L628.77,729.86 L629.75,729.64 L630.72,729.41 L631.69,729.17 L632.67,728.94 L633.64,728.70 L634.61,728.45 L635.58,728.21 L636.55,727.96 L637.52,727.70 L638.49,727.45 L639.46,727.19 L640.42,726.93 L641.39,726.66 L642.35,726.39 L643.31,726.12 L644.28,725.84 L645.24,725.56 L646.20,725.27 L647.16,724.98 L648.11,724.69 L649.07,724.39 L650.03,724.09 L650.98,723.79 L651.93,723.48 L652.88,723.16 L653.83,722.84 L654.78,722.52 L655.73,722.19 L656.67,721.86 L657.61,721.52 L658.55,721.18 L659.49,720.83 L660.43,720.48 L661.37,720.13 L662.30,719.76 L663.23,719.40 L664.16,719.02 L665.09,718.65 L666.01,718.26 L666.94,717.87 L667.86,717.48 L668.77,717.08 L669.69,716.67 L670.60,716.25 L671.51,715.84 L672.42,715.41 L673.32,714.98 L674.22,714.54 L675.12,714.09 L676.01,713.64 L676.90,713.18 L677.79,712.72 L678.67,712.24 L679.55,711.76 L680.42,711.28 L681.29,710.78 L682.16,710.28 L683.02,709.77 L683.88,709.25 L684.73,708.73 L685.58,708.20 L686.42,707.65 L687.26,707.11 L688.09,706.55 L688.92,705.98 L689.74,705.41 L690.55,704.83 L691.36,704.23 L692.16,703.63 L692.96,703.03 L693.75,702.41 L694.53,701.78 L695.30,701.15 L696.07,700.51 L696.83,699.85 L697.58,699.19 L698.33,698.52 L699.06,697.84 L699.79,697.15 L700.51,696.46 L701.22,695.75 L701.92,695.04 L702.61,694.31 L703.30,693.58 L703.97,692.84 L704.63,692.09 L705.29,691.34 L705.94,690.57 L706.57,689.80 L707.20,689.01 L707.81,688.22 L708.42,687.43 L709.01,686.62 L709.60,685.81 L710.17,684.99 L710.74,684.16 L711.29,683.33 L711.83,682.49 L712.37,681.64 L712.89,680.78 L713.40,679.92 L713.91,679.06 L714.40,678.19 L714.88,677.31 L715.35,676.43 L715.82,675.54 L716.27,674.65 L716.71,673.75 L717.15,672.85 L717.57,671.94 L717.99,671.03 L718.39,670.11 L718.79,669.19 L719.18,668.27 L719.56,667.34 L719.93,666.41 L720.29,665.48 L720.65,664.54 L720.99,663.60 L721.33,662.66 L721.66,661.72 L721.99,660.77 L722.30,659.82 L722.61,658.87 L722.91,657.91 L723.21,656.96 L723.50,656.00 L723.78,655.04 L724.06,654.07 L724.33,653.11 L724.59,652.14 L724.85,651.18 L725.10,650.21 L725.35,649.24 L725.59,648.26 L725.82,647.29 L726.05,646.32 L726.28,645.34 L726.50,644.36 L726.72,643.39 L726.93,642.41 L727.13,641.43 L727.34,640.45 L727.54,639.47 L727.73,638.48 L727.92,637.50 L728.11,636.52 L728.29,635.53 L728.47,634.55 L728.64,633.56 L728.81,632.57 L728.98,631.59 L729.14,630.60 L729.31,629.61 L729.46,628.62 L729.62,627.63 L729.77,626.64 L729.92,625.65 L730.07,624.66 L730.21,623.67 L730.35,622.68 L730.49,621.69 L730.62,620.69 L730.75,619.70 L730.89,618.71 L731.01,617.72 L731.14,616.72 L731.26,615.73 L731.38,614.73 L731.50,613.74 L731.62,612.75 L731.73,611.75 L731.85,610.76 L731.96,609.76 L732.07,608.77 L732.17,607.77 L732.28,606.77 L732.38,605.78 L732.48,604.78 L732.58,603.79 L732.68,602.79 L732.78,601.79 L732.87,600.80 L732.97,599.80 L733.06,598.80 L733.15,597.80 L733.24,596.81 L733.33,595.81 L733.41,594.81 L733.50,593.81 L733.58,592.82 L733.66,591.82 L733.74,590.82 L733.82,589.82 L733.90,588.82 L733.98,587.83 L734.06,586.83 L734.13,585.83 L734.21,584.83 L734.28,583.83 L734.35,582.83 L734.42,581.83 L734.49,580.83 L734.56,579.84 L734.63,578.84 L734.69,577.84 L734.76,576.84 L734.83,575.84 L734.89,574.84 L734.95,573.84 L735.02,572.84 L735.08,571.84 L735.14,570.84 L735.20,569.84 L735.26,568.84 L735.32,567.84 L735.37,566.84 L735.43,565.84 L735.49,564.84 L735.54,563.84 L735.60,562.84 L735.65,561.84 L735.70,560.84 L735.76,559.84 L735.81,558.84 L735.86,557.84 L735.91,556.84 L735.96,555.84 L736.01,554.84 L736.06,553.84 L736.11,552.84 L736.15,551.84 L736.20,550.84 L736.25,549.84 L736.29,548.84 L736.34,547.84 L736.38,546.84 L736.43,545.84 L736.47,544.84 L736.52,543.84 L736.56,542.84 L736.60,541.84 L736.64,540.84 L736.68,539.84 L736.72,538.84 L736.77,537.84 L736.81,536.84 L736.84,535.84 L736.88,534.84 L736.92,533.84 L736.96,532.83 L737.00,531.83 L737.04,530.83 L737.07,529.83 L737.11,528.83 L737.15,527.83 L737.18,526.83 L737.22,525.83 L737.25,524.83 L737.29,523.83 L737.32,522.83 L737.36,521.83 L737.39,520.83 L737.42,519.83 L737.46,518.82 L737.49,517.82 L737.52,516.82 L737.55,515.82 L737.59,514.82 L737.62,513.82 L737.65,512.82 L737.68,511.82 L737.71,510.82 L737.74,509.82 L737.77,508.82 L737.80,507.81 L737.83,506.81 L737.86,505.81 L737.89,504.81 L737.92,503.81 L737.94,502.81 L737.97,501.81 L738.00,500.81 L738.03,499.81 L738.05,498.81 L738.08,497.81 L738.11,496.80 L738.13,495.80 L738.16,494.80 L738.19,493.80 L738.21,492.80 L738.24,491.80 L738.26,490.80 L738.29,489.80 L738.31,488.80 L738.34,487.79 L738.36,486.79 L738.39,485.79 L738.41,484.79 L738.44,483.79 L738.46,482.79 L738.48,481.79 L738.51,480.79 L738.53,479.79 L738.55,478.79 L738.57,477.78 L738.60,476.78 L738.62,475.78 L738.64,474.78 L738.66,473.78 L738.68,472.78 L738.71,471.78 L738.73,470.78 L738.75,469.78 L738.77,468.77 L738.79,467.77 L738.81,466.77 L738.83,465.77 L738.85,464.77 L738.87,463.77 L738.89,462.77 L738.91,461.77 L738.93,460.76 L738.95,459.76 L738.97,458.76 L738.99,457.76 L739.01,456.76 L739.03,455.76 L739.05,454.76 L739.07,453.76 L739.08,452.76 L739.10,451.75 L739.12,450.75 L739.14,449.75 L739.16,448.75 L739.18,447.75 L739.19,446.75 L739.21,445.75 L739.23,444.75 L739.25,443.74 L739.26,442.74 L739.28,441.74 L739.30,440.74 L739.31,439.74 L739.33,438.74 L739.35,437.74 L739.36,436.74 L739.38,435.73 L739.40,434.73 L739.41,433.73 L739.43,432.73 L739.44,431.73 L739.46,430.73 L739.48,429.73 L739.49,428.73 L739.51,427.72 L739.52,426.72 L739.54,425.72 L739.55,424.72 L739.57,423.72 L739.58,422.72 L739.60,421.72 L739.61,420.72 L739.63,419.71 L739.64,418.71 L739.66,417.71 L739.67,416.71 L739.69,415.71 L739.70,414.71 L739.71,413.71 L739.73,412.71 L739.74,411.70 L739.76,410.70 L739.77,409.70 L739.78,408.70 L739.80,407.70 L739.81,406.70 L739.82,405.70 L739.84,404.70 L739.85,403.69 L739.86,402.69 L739.88,401.69 L739.89,400.69 L739.90,399.69 L739.92,398.69 L739.93,397.77 L739.93,397.06 L739.94,396.36 L739.95,395.66 L739.96,394.96 L739.97,394.25 L739.97,393.55 L739.98,392.85 L739.99,392.15 L740.00,391.45 L740.01,390.74 L740.01,390.04 L740.02,389.34 L740.03,388.64 L740.04,387.93 L740.05,387.23 L740.05,386.53 L740.06,385.83 L740.07,385.13 L740.08,384.42 L740.09,383.72 L740.09,383.02 L740.10,382.32 L740.11,381.61 L740.12,380.91 L740.12,380.21 L740.13,379.51 L740.14,378.81 L740.15,378.10 L740.15,377.40 L740.16,376.70 L740.17,376.00 L740.18,375.29 L740.18,374.59 L740.19,373.89 L740.20,373.19 L740.21,372.49 L740.21,371.78 L740.22,371.08 L740.23,370.38 L740.24,369.68 L740.24,368.97 L740.25,368.27 L740.26,367.57 L740.26,366.87 L740.27,366.17 L740.28,365.46 L740.29,364.76 L740.29,364.06 L740.30,363.36 L740.31,362.65 L740.31,361.95 L740.32,361.25 L740.33,360.55 L740.34,359.85 L740.34,359.14 L740.35,358.44 L740.36,357.74 L740.36,357.04 L740.37,356.33 L740.38,355.63 L740.38,354.93 L740.39,354.23 L740.40,353.53 L740.41,352.82 L740.41,352.12 L740.42,351.42 L740.43,350.72 L740.43,350.01 L740.44,349.31 L740.45,348.61 L740.45,347.91 L740.46,347.21 L740.47,346.50 L740.47,345.80 L740.48,345.10 L740.49,344.40 L740.49,343.69 L740.50,342.99 L740.51,342.29 L740.51,341.59 L740.52,340.89 L740.53,340.18 L740.53,339.48 L740.54,338.78 L740.55,338.08 L740.55,337.37 L740.56,336.67 L740.57,335.97 L740.57,335.27 L740.58,334.57 L740.59,333.86 L740.59,333.16 L740.60,332.46 L740.61,331.76 L740.61,331.05 L740.62,330.35 L740.63,329.65 L740.63,328.95 L740.64,328.25 L740.65,327.54 L740.65,326.84 L740.66,326.14 L740.67,325.44 L740.67,324.73 L740.68,324.03 L740.69,323.33 L740.69,322.63 L740.70,321.93 L740.71,321.22 L740.71,320.52 L740.72,319.82 L740.72,319.12 L740.73,318.41 L740.74,317.71 L740.74,317.01 L740.75,316.31 L740.76,315.60 L740.76,314.90 L740.77,314.20 L740.78,313.50 L740.78,312.80 L740.79,312.09 L740.80,311.39 L740.80,310.69 L740.81,309.99 L740.82,309.28 L740.82,308.58 L740.83,307.88 L740.83,307.18 L740.84,306.48 L740.85,305.77 L740.85,305.07 L740.86,304.37 L740.87,303.67 L740.87,302.96 L740.88,302.26 L740.89,301.56 L740.89,300.86 L740.90,300.16 L740.90,299.45 L740.91,298.75 L740.92,298.05 L740.92,297.35 L740.93,296.64 L740.94,295.94 L740.94,295.24 L740.95,294.54 L740.95,293.84 L740.96,293.13 L740.97,292.43 L740.97,291.73 L740.98,291.03 L740.98,290.32 L740.99,289.62 L741.00,288.92 L741.00,288.22 L741.01,287.52 L741.01,286.81 L741.02,286.11 L741.02,285.41 L741.03,284.71 L741.03,284.00 L741.04,283.30 L741.04,282.60 L741.05,281.90 L741.06,281.20 L741.06,280.49 L741.07,279.79 L741.07,279.09 L741.08,278.39 L741.08,277.68 L741.09,276.98 L741.09,276.28 L741.10,275.58 L741.10,274.88 L741.11,274.17 L741.11,273.47 L741.12,272.77 L741.12,272.07 L741.13,271.36 L741.13,270.66 L741.14,269.96 L741.14,269.26 L741.15,268.56 L741.15,267.85 L741.16,267.15 L741.16,266.45 L741.17,265.75 L741.17,265.04 L741.18,264.34 L741.18,263.64 L741.19,262.94 L741.19,262.23 L741.20,261.53 L741.20,260.83 L741.21,260.13 L741.21,259.43 L741.22,258.72 L741.22,258.02 L741.23,257.32 L741.23,256.62 L741.24,255.91 L741.25,255.21 L741.25,254.51 L741.26,253.81 L741.26,253.11 L741.27,252.40 L741.27,251.70 L741.28,251.00 L741.28,250.30 L741.29,249.59 L741.29,248.89 L741.30,248.19 L741.30,247.49 L741.31,246.79 L741.31,246.08 L741.32,245.38 L741.33,244.68 L741.33,243.98 L741.34,243.27 L741.34,242.57 L741.35,241.87 L741.35,241.17 L741.36,240.47 L741.36,239.76 L741.37,239.06 L741.38,238.36 L741.38,237.66 L741.39,236.95 L741.39,236.25 L741.40,235.55 L741.41,234.85 L741.41,234.15 L741.42,233.44 L741.42,232.74 L741.43,232.04 L741.44,231.34 L741.44,230.63 L741.45,229.93 L741.46,229.23 L741.46,228.53 L741.47,227.83 L741.48,227.12 L741.48,226.42 L741.49,225.72 L741.50,225.02 L741.50,224.31 L741.51,223.61 L741.52,222.91 L741.52,222.21 L741.53,221.51 L741.54,220.80 L741.55,220.10 L741.55,219.40 L741.56,218.70 L741.57,217.99 L741.58,217.29 L741.58,216.59 L741.59,215.89 L741.60,215.19 L741.61,214.48 L741.62,213.78 L741.62,213.08 L741.63,212.38 L741.64,211.67 L741.65,210.97 L741.66,210.27 L741.67,209.57 L741.67,208.87 L741.68,208.16 L741.69,207.46 L741.70,206.76 L741.71,206.06 L741.72,205.35 L741.73,204.65 L741.74,203.95 L741.75,203.25 L741.76,202.55 L741.77,201.84 L741.77,201.14 L741.78,200.44 L741.79,199.74 L741.81,199.03 L741.82,198.33 L741.83,197.63 L741.84,196.93 L741.85,196.23 L741.86,195.52 L741.87,194.82 L741.88,194.12 L741.89,193.42 L741.90,192.71 L741.92,192.01 L741.93,191.31 L741.94,190.61 L741.95,189.91 L741.97,189.20 L741.98,188.50 L741.99,187.80 L742.01,187.10 L742.02,186.39 L742.03,185.69 L742.05,184.99 L742.06,184.29 L742.08,183.59 L742.09,182.88 L742.11,182.18 L742.12,181.48 L742.14,180.78 L742.15,180.08 L742.17,179.37 L742.19,178.67 L742.20,177.97 L742.22,177.27 L742.24,176.57 L742.26,175.86 L742.27,175.16 L742.29,174.46 L742.31,173.76 L742.33,173.06 L742.35,172.36 L742.38,171.65 L742.40,170.95 L742.42,170.25 L742.45,169.55 L742.47,168.85 L742.50,168.14 L742.53,167.44 L742.56,166.74 L742.59,166.04 L742.62,165.34 L742.65,164.64 L742.68,163.93 L742.72,163.23 L742.75,162.53 L742.78,161.83 L742.82,161.13 L742.86,160.43 L742.89,159.72 L742.93,159.02 L742.97,158.32 L743.01,157.62 L743.04,156.92 L743.08,156.22 L743.12,155.52 L743.16,154.82 L743.20,154.11 L743.25,153.41 L743.29,152.71 L743.33,152.01 L743.37,151.31 L743.41,150.61 L743.45,149.90 L743.50,149.20 L743.54,148.50 L743.59,147.80 L743.64,147.09 L743.69,146.39 L743.75,145.69 L743.80,144.99 L743.87,144.29 L743.94,143.59 L744.01,142.90 L744.09,142.21 L744.17,141.51 L744.27,140.79 L744.38,140.05 L744.51,139.31 L744.65,138.57 L744.82,137.86 L745.02,137.20 L745.25,136.61 L745.52,136.09 L745.97,135.57 L746.59,135.10 L747.26,134.78 L747.92,134.66 L748.62,134.60 L749.34,134.56 L750.04,134.55 L750.75,134.55 L751.45,134.55 L752.15,134.55 L752.85,134.55 L753.55,134.55 L754.26,134.55 L754.96,134.55 L755.66,134.55 L756.36,134.55 L757.07,134.55 L757.77,134.55 L758.47,134.55 L759.17,134.55 L759.88,134.55 L760.58,134.55 L761.28,134.55 L761.98,134.55 L762.69,134.55 L763.39,134.55 L764.09,134.55 L764.79,134.55 L765.49,134.55 L766.20,134.55 L766.90,134.55 L767.60,134.55 L768.30,134.55 L769.01,134.55 L769.71,134.55 L770.41,134.55 L771.11,134.55 L771.81,134.55 L772.52,134.55 L773.22,134.55 L773.92,134.55 L774.62,134.55 L775.33,134.55 L776.03,134.55 L776.73,134.55 L777.43,134.55 L778.14,134.55 L778.84,134.55 L779.54,134.55 L780.24,134.55 L780.94,134.55 L781.65,134.55 L782.35,134.55 L783.05,134.55 L783.75,134.55 L784.46,134.55 L785.16,134.55 L785.86,134.55 L786.56,134.55 L787.26,134.55 L787.97,134.55 L788.67,134.55 L789.37,134.55 L790.07,134.55 L790.78,134.55 L791.48,134.55 L792.18,134.55 L792.88,134.55 L793.58,134.55 L794.29,134.55 L794.99,134.55 L795.69,134.55 L796.39,134.55 L797.10,134.55 L797.80,134.55 L798.50,134.55 L799.20,134.55 L799.91,134.55 L800.61,134.55 L801.31,134.55 L802.01,134.55 L802.71,134.55 L803.42,134.55 L804.12,134.55 L804.82,134.55 L805.52,134.55 L806.23,134.55 L806.93,134.55 L807.63,134.55 L808.33,134.55 L809.03,134.55 L809.74,134.55 L810.44,134.55 L811.14,134.55 L811.84,134.55 L812.55,134.55 L813.25,134.55 L813.95,134.55 L814.65,134.55 L815.35,134.55 L816.06,134.55 L816.76,134.55 L817.46,134.55 L818.16,134.55 L818.87,134.55 L819.57,134.55 L820.27,134.55 L820.97,134.55 L821.68,134.55 L822.38,134.55 L823.08,134.55 L823.78,134.55 L824.48,134.55 L825.19,134.55 L825.89,134.55 L826.59,134.55 L827.29,134.55 L828.00,134.55 L828.70,134.55 L829.40,134.55" fill="none" stroke="#00be00" stroke-width="3.6" stroke-linejoin="round" stroke-linecap="butt"/>
<g stroke="#000" stroke-width="3.7" fill="none" stroke-linecap="round">
<path d="M109.05,1.45 H829.45 V751.95 H109.05 Z" stroke-linejoin="round"/>
<path d="M199.10,751.95 v-19.4 M199.10,1.45 v19.4 M379.20,751.95 v-19.4 M379.20,1.45 v19.4 M559.30,751.95 v-19.4 M559.30,1.45 v19.4 M739.40,751.95 v-19.4 M739.40,1.45 v19.4 M289.15,751.95 v-9.6 M289.15,1.45 v9.6 M469.25,751.95 v-9.6 M469.25,1.45 v9.6 M649.35,751.95 v-9.6 M649.35,1.45 v9.6 M109.05,607.62 h19.4 M829.45,607.62 h-19.4 M109.05,463.30 h19.4 M829.45,463.30 h-19.4 M109.05,318.97 h19.4 M829.45,318.97 h-19.4 M109.05,174.64 h19.4 M829.45,174.64 h-19.4 M109.05,30.32 h19.4 M829.45,30.32 h-19.4"/>
</g>
<rect x="160.85" y="779.10" width="15.40" height="1.8" fill="#000"/>
<text transform="translate(177.16,788.20) scale(1.0379,1.0550)" style="font-size:30px;">3000</text>
<rect x="340.95" y="779.10" width="15.40" height="1.8" fill="#000"/>
<text transform="translate(357.38,788.20) scale(1.0358,1.0550)" style="font-size:30px;">2000</text>
<rect x="521.05" y="779.10" width="15.40" height="1.8" fill="#000"/>
<text transform="translate(539.40,788.20) scale(1.0032,1.0550)" style="font-size:30px;">1000</text>
<text transform="translate(731.62,788.20) scale(1.0303,1.0550)" style="font-size:30px;">0</text>
<text transform="translate(81.58,764.35) scale(1.0696,1.0550)" style="font-size:30px;">0</text>
<text transform="translate(43.13,620.02) scale(1.0202,1.0550)" style="font-size:30px;">0.25</text>
<text transform="translate(58.12,475.70) scale(1.0288,1.0550)" style="font-size:30px;">0.5</text>
<text transform="translate(43.13,331.37) scale(1.0202,1.0550)" style="font-size:30px;">0.75</text>
<text transform="translate(83.50,187.04) scale(0.7953,1.0550)" style="font-size:30px;">1</text>
<text transform="translate(44.58,42.72) scale(0.9920,1.0550)" style="font-size:30px;">1.25</text>
<text transform="translate(409.56,821.60) scale(0.9963,1.0000)" style="font-size:30px;">Time</text>
<text transform="translate(479.69,821.60) scale(0.9190,1.0000)" style="font-size:30px;font-style:italic;">t</text>
<text transform="translate(502.75,821.60) scale(0.9918,1.0000)" style="font-size:30px;font-style:italic;">M</text>
<line x1="492.6" y1="826.2" x2="501.3" y2="801.2" stroke="#000" stroke-width="1.6"/>
<text transform="translate(25.20,526.87) rotate(-90) scale(1.0086,1)" style="font-size:30px;">Phase error</text>
<text transform="translate(25.20,383.86) rotate(-90) scale(1.0000,1)" style="font-size:30px;">|</text>
<text transform="translate(25.20,377.73) rotate(-90) scale(0.9434,1)" style="font-size:30px;font-style:italic;">δ</text>
<text transform="translate(25.20,363.41) rotate(-90) scale(1.1743,1)" style="font-size:30px;font-style:italic;">ϕ</text>
<text transform="translate(25.20,345.96) rotate(-90) scale(1.0000,1)" style="font-size:30px;">|</text>
<text transform="translate(25.20,332.54) rotate(-90) scale(1.0156,1)" style="font-size:30px;">(radians)</text>
<g fill="#00be00" stroke="#00be00">
<line x1="611.8" y1="134.35" x2="690" y2="134.35" stroke-width="3.4"/>
<path d="M684.8,126.94999999999999 L712.6,134.35 L684.8,141.75 Z" stroke-width="3.2" stroke-linejoin="round"/>
</g>
<text transform="translate(419.08,140.50) scale(1.0765,1.0000)" style="font-size:30px;font-style:italic;fill:#00be00;">t</text>
<text transform="translate(427.60,144.50) scale(1.0182,1.0300)" style="font-size:19.5px;fill:#00be00;">align</text>
<rect x="480.00" y="127.90" width="16.00" height="1.8" fill="#00be00"/>
<rect x="480.00" y="135.80" width="16.00" height="1.8" fill="#00be00"/>
<rect x="507.40" y="131.80" width="15.90" height="1.8" fill="#00be00"/>
<text transform="translate(523.74,140.50) scale(1.0411,1.0500)" style="font-size:30px;fill:#00be00;">750</text>
<text transform="translate(577.73,140.50) scale(0.9394,1.0200)" style="font-size:30px;font-style:italic;fill:#00be00;">M</text>
<g fill="#be0000" stroke="#be0000">
<line x1="611.8" y1="394.8" x2="690" y2="394.8" stroke-width="3.4"/>
<path d="M684.8,387.40000000000003 L712.6,394.8 L684.8,402.2 Z" stroke-width="3.2" stroke-linejoin="round"/>
</g>
<text transform="translate(404.08,400.50) scale(1.0765,1.0000)" style="font-size:30px;font-style:italic;fill:#be0000;">t</text>
<text transform="translate(412.09,404.50) scale(1.0392,1.0300)" style="font-size:19.5px;fill:#be0000;">align</text>
<rect x="464.70" y="387.90" width="16.30" height="1.8" fill="#be0000"/>
<rect x="464.70" y="395.80" width="16.30" height="1.8" fill="#be0000"/>
<rect x="492.40" y="391.80" width="15.40" height="1.8" fill="#be0000"/>
<text transform="translate(510.35,400.50) scale(1.0032,1.0500)" style="font-size:30px;fill:#be0000;">1500</text>
<text transform="translate(576.94,400.50) scale(0.9656,1.0200)" style="font-size:30px;font-style:italic;fill:#be0000;">M</text>
<g fill="#0000be" stroke="#0000be">
<line x1="611.8" y1="634.05" x2="690" y2="634.05" stroke-width="3.4"/>
<path d="M684.8,626.65 L712.6,634.05 L684.8,641.4499999999999 Z" stroke-width="3.2" stroke-linejoin="round"/>
</g>
<text transform="translate(404.08,639.50) scale(1.0765,1.0000)" style="font-size:30px;font-style:italic;fill:#0000be;">t</text>
<text transform="translate(412.09,643.50) scale(1.0392,1.0300)" style="font-size:19.5px;fill:#0000be;">align</text>
<rect x="464.70" y="626.90" width="16.30" height="1.8" fill="#0000be"/>
<rect x="464.70" y="634.80" width="16.30" height="1.8" fill="#0000be"/>
<rect x="492.40" y="630.80" width="15.40" height="1.8" fill="#0000be"/>
<text transform="translate(509.64,639.50) scale(1.0153,1.0500)" style="font-size:30px;fill:#0000be;">3000</text>
<text transform="translate(576.94,639.50) scale(0.9656,1.0200)" style="font-size:30px;font-style:italic;fill:#0000be;">M</text>
</svg></body></html>
